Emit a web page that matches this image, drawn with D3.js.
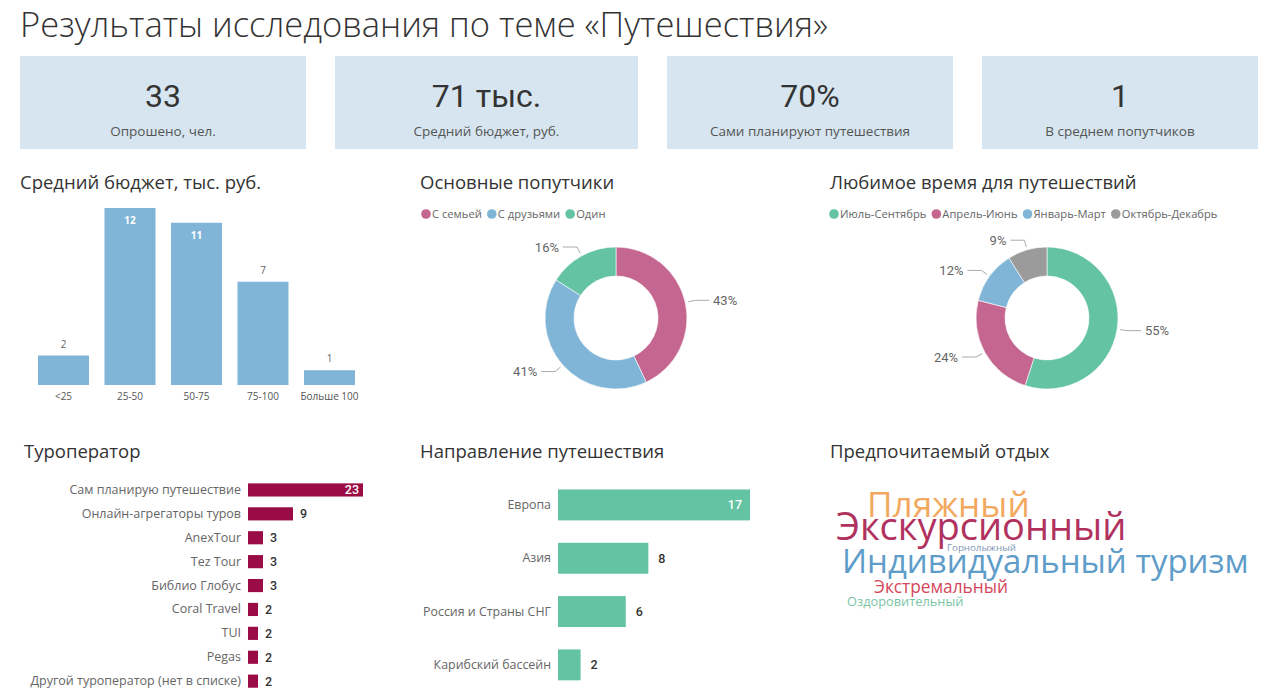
<!DOCTYPE html>
<html lang="ru">
<head>
<meta charset="utf-8">
<script src="https://cdn.jsdelivr.net/npm/d3@7"></script>
<style>
  body { margin: 0; background: #fff; }
  svg { font-family: "Open Sans", "Noto Sans", sans-serif; display: block; }
</style>
</head>
<body>
<div id="chart"></div>
<script>
// ---- data ----
var kpiValues = ["33", "71 тыс.", "70%", "1"];
var kpiLabels = ["Опрошено, чел.", "Средний бюджет, руб.", "Сами планируют путешествия", "В среднем попутчиков"];

var budgetCats = ["<25", "25-50", "50-75", "75-100", "Больше 100"];
var budgetCounts = [2, 12, 11, 7, 1];

var companionCats = ["С семьей", "С друзьями", "Один"];
var companionShare = [43, 41, 16];

var seasonCats = ["Июль-Сентябрь", "Апрель-Июнь", "Январь-Март", "Октябрь-Декабрь"];
var seasonShare = [55, 24, 12, 9];

var operatorCats = ["Сам планирую путешествие", "Онлайн-агрегаторы туров", "AnexTour", "Tez Tour",
  "Библио Глобус", "Coral Travel", "TUI", "Pegas", "Другой туроператор (нет в списке)"];
var operatorCounts = [23, 9, 3, 3, 3, 2, 2, 2, 2];

var directionCats = ["Европа", "Азия", "Россия и Страны СНГ", "Карибский бассейн"];
var directionCounts = [17, 8, 6, 2];

var restWords = ["Пляжный", "Экскурсионный", "Горнолыжный", "Индивидуальный туризм", "Экстремальный", "Оздоровительный"];
var restWeights = [11, 12, 1.9, 10.2, 4.6, 3];

// ---- colours ----
var pink = "#c4668f", blue = "#80b5d7", green = "#63c3a2", grey = "#9b9b9b";
var crimson = "#9a0c46";
var numFont = "Roboto, 'Open Sans', sans-serif";

var svg = d3.select("#chart").append("svg")
  .attr("width", 1280)
  .attr("height", 699);

// page title
svg.append("text")
  .attr("x", 20).attr("y", 37)
  .attr("font-size", 34.5).attr("font-weight", 300).attr("fill", "#333")
  .text("Результаты исследования по теме «Путешествия»");

// ---- KPI cards ----
var cardX = [20, 335, 667, 982], cardW = [286, 303, 286, 276];
var cards = svg.selectAll("g.card").data(kpiValues).enter().append("g")
  .attr("class", "card")
  .attr("transform", (d, i) => `translate(${cardX[i]}, 56)`);
cards.append("rect")
  .attr("width", (d, i) => cardW[i]).attr("height", 93)
  .attr("fill", "#d6e5ef");
cards.append("text")
  .attr("x", (d, i) => cardW[i] / 2).attr("y", 51)
  .attr("text-anchor", "middle").attr("font-family", numFont)
  .attr("font-size", 32).attr("fill", "#333")
  .text(d => d);
cards.append("text")
  .attr("x", (d, i) => cardW[i] / 2).attr("y", 80)
  .attr("text-anchor", "middle").attr("font-size", 13.5).attr("fill", "#555")
  .text((d, i) => kpiLabels[i]);

function sectionTitle(x, y, t) {
  svg.append("text").attr("x", x).attr("y", y)
    .attr("font-size", 18.5).attr("fill", "#333").text(t);
}

// ---- budget histogram ----
sectionTitle(20, 189, "Средний бюджет, тыс. руб.");
var bx = d3.scaleBand().domain(budgetCats).range([38, 355]).paddingInner(0.233);
var by = d3.scaleLinear().domain([0, 12]).range([385, 208]);
var budget = budgetCats.map((c, i) => ({ c: c, v: budgetCounts[i] }));
var bg = svg.append("g");
bg.selectAll("rect").data(budget).enter().append("rect")
  .attr("x", d => bx(d.c)).attr("width", bx.bandwidth())
  .attr("y", d => by(d.v)).attr("height", d => by(0) - by(d.v))
  .attr("fill", blue);
bg.selectAll("text.val").data(budget).enter().append("text")
  .attr("class", "val")
  .attr("x", d => bx(d.c) + bx.bandwidth() / 2)
  .attr("y", d => d.v > 10 ? by(d.v) + 16 : by(d.v) - 8)
  .attr("text-anchor", "middle").attr("font-size", 10)
  .attr("font-weight", d => d.v > 10 ? 700 : 400)
  .attr("fill", d => d.v > 10 ? "#fff" : "#666")
  .text(d => d.v);
var bAxis = bg.append("g").attr("transform", "translate(0,385)")
  .call(d3.axisBottom(bx).tickSize(0).tickPadding(8));
bAxis.select(".domain").remove();
bAxis.selectAll("text").attr("font-size", 10).attr("fill", "#555")
  .attr("font-family", "'Open Sans', sans-serif");

// ---- donuts ----
function legend(x, y, cats, colors) {
  var lg = svg.append("g").attr("transform", `translate(${x},${y})`);
  var cx = 0;
  cats.forEach((c, i) => {
    lg.append("circle").attr("cx", cx + 5).attr("cy", 0).attr("r", 4.8).attr("fill", colors[i]);
    var t = lg.append("text").attr("x", cx + 11).attr("y", 4)
      .attr("font-size", 11.2).attr("fill", "#666").text(c);
    cx += 11 + t.node().getComputedTextLength() + 5;
  });
}

function donut(cx, cy, cats, shares, colors) {
  var g = svg.append("g").attr("transform", `translate(${cx},${cy})`);
  var r = 71;
  var pie = d3.pie().sort(null).value(d => d);
  var arc = d3.arc().innerRadius(42).outerRadius(r);
  var arcs = pie(shares);
  g.selectAll("path").data(arcs).enter().append("path")
    .attr("d", arc).attr("fill", (d, i) => colors[i])
    .attr("stroke", "#fff").attr("stroke-width", 0.6);
  arcs.forEach(a => {
    var m = (a.startAngle + a.endAngle) / 2;
    var p1 = [Math.sin(m) * (r + 3), -Math.cos(m) * (r + 3)];
    var p2 = [Math.sin(m) * (r + 10), -Math.cos(m) * (r + 10)];
    var side = Math.sin(m) >= 0 ? 1 : -1;
    var p3 = [p2[0] + side * 14, p2[1]];
    g.append("polyline")
      .attr("points", [p1, p2, p3].map(p => p.join(",")).join(" "))
      .attr("fill", "none").attr("stroke", "#aaa").attr("stroke-width", 1);
    g.append("text")
      .attr("x", p3[0] + side * 4).attr("y", p3[1] + 4.5)
      .attr("text-anchor", side > 0 ? "start" : "end")
      .attr("font-family", numFont).attr("font-size", 13).attr("fill", "#666")
      .text(a.data + "%");
  });
}

sectionTitle(420, 189, "Основные попутчики");
legend(421, 214, companionCats, [pink, blue, green]);
donut(616, 318, companionCats, companionShare, [pink, blue, green]);

sectionTitle(830, 189, "Любимое время для путешествий");
legend(829, 214, seasonCats, [green, pink, blue, grey]);
donut(1047, 318, seasonCats, seasonShare, [green, pink, blue, grey]);

// ---- tour operators ----
sectionTitle(24, 458, "Туроператор");
var oy = d3.scaleBand().domain(operatorCats).range([478.6, 692.5]).paddingInner(0.45).paddingOuter(0.2);
var ox = d3.scaleLinear().domain([0, 23]).range([248, 363]);
var ops = operatorCats.map((c, i) => ({ c: c, v: operatorCounts[i] }));
var og = svg.append("g");
og.selectAll("rect").data(ops).enter().append("rect")
  .attr("x", ox(0)).attr("y", d => oy(d.c))
  .attr("width", d => ox(d.v) - ox(0)).attr("height", oy.bandwidth())
  .attr("fill", crimson);
og.selectAll("text.val").data(ops).enter().append("text")
  .attr("class", "val")
  .attr("x", d => d.v > 20 ? ox(d.v) - 4 : ox(d.v) + 7)
  .attr("y", d => oy(d.c) + oy.bandwidth() / 2 + 4.5)
  .attr("text-anchor", d => d.v > 20 ? "end" : "start")
  .attr("font-family", numFont).attr("font-size", 12.5).attr("font-weight", 500)
  .attr("fill", d => d.v > 20 ? "#fff" : "#333")
  .text(d => d.v);
var oAxis = og.append("g").attr("transform", "translate(241,0)")
  .call(d3.axisLeft(oy).tickSize(0).tickPadding(0));
oAxis.select(".domain").remove();
oAxis.selectAll("text").attr("font-size", 12.5).attr("fill", "#666")
  .attr("font-family", "'Open Sans', sans-serif");

// ---- directions ----
sectionTitle(420, 458, "Направление путешествия");
var dy = d3.scaleBand().domain(directionCats).range([478.8, 691]).paddingInner(0.42).paddingOuter(0.2);
var dx = d3.scaleLinear().domain([0, 17]).range([558, 750]);
var dirs = directionCats.map((c, i) => ({ c: c, v: directionCounts[i] }));
var dg = svg.append("g");
dg.selectAll("rect").data(dirs).enter().append("rect")
  .attr("x", dx(0)).attr("y", d => dy(d.c))
  .attr("width", d => dx(d.v) - dx(0)).attr("height", dy.bandwidth())
  .attr("fill", green);
dg.selectAll("text.val").data(dirs).enter().append("text")
  .attr("class", "val")
  .attr("x", d => d.v > 15 ? dx(d.v) - 8 : dx(d.v) + 10)
  .attr("y", d => dy(d.c) + dy.bandwidth() / 2 + 4.5)
  .attr("text-anchor", d => d.v > 15 ? "end" : "start")
  .attr("font-family", numFont).attr("font-size", 12.5).attr("font-weight", 500)
  .attr("fill", d => d.v > 15 ? "#fff" : "#333")
  .text(d => d.v);
var dAxis = dg.append("g").attr("transform", "translate(551,0)")
  .call(d3.axisLeft(dy).tickSize(0).tickPadding(0));
dAxis.select(".domain").remove();
dAxis.selectAll("text").attr("font-size", 12.4).attr("fill", "#666")
  .attr("font-family", "'Open Sans', sans-serif");

// ---- word cloud ----
sectionTitle(830, 458, "Предпочитаемый отдых");
var wordColors = ["#f2a95f", "#b1325f", "#7f96b5", "#5e9cc9", "#d5475a", "#7cc4a6"];
// anchor slots (left x, baseline y) relative to the cloud origin
var slots = [[37, 87], [6, 110], [117, 121], [12, 143], [44, 163], [17, 176]];
var fs = d3.scaleLinear().domain([2, 12]).range([10, 38]);
var wg = svg.append("g").attr("transform", "translate(830,430)");
wg.selectAll("text").data(restWords).enter().append("text")
  .attr("x", (d, i) => slots[i][0]).attr("y", (d, i) => slots[i][1])
  .attr("font-size", (d, i) => fs(restWeights[i]))
  .attr("fill", (d, i) => wordColors[i])
  .text(d => d);
</script>
</body>
</html>
